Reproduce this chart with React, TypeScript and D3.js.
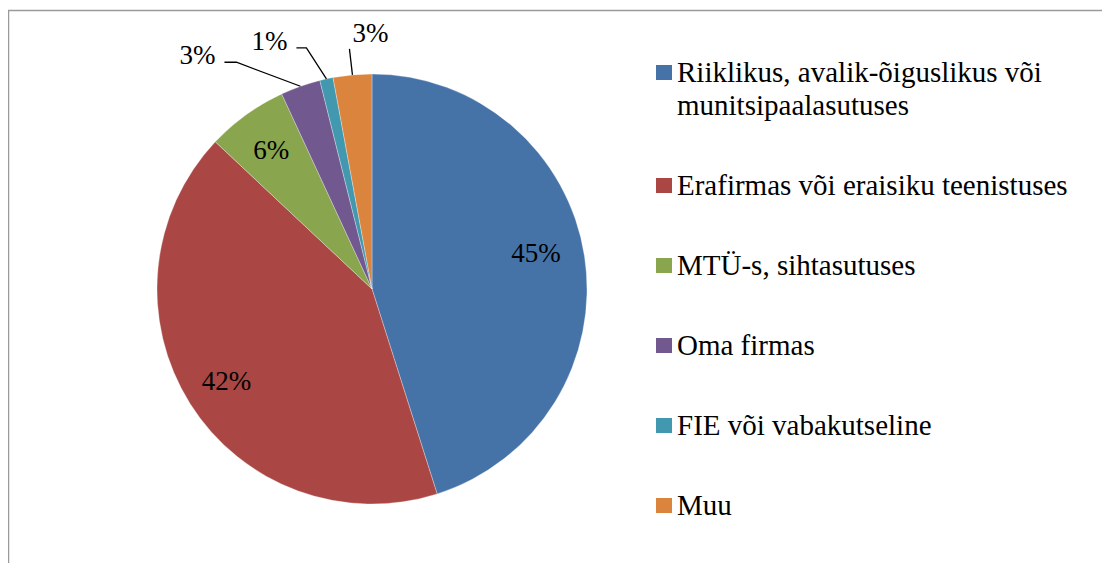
import React from "react";
import * as d3 from "d3";

const categories = [
  "Riiklikus, avalik-õiguslikus või munitsipaalasutuses",
  "Erafirmas või eraisiku teenistuses",
  "MTÜ-s, sihtasutuses",
  "Oma firmas",
  "FIE või vabakutseline",
  "Muu",
];
const values = [45.1, 41.9, 6.1, 3.0, 1.0, 2.9];
const valueLabels = ["45%", "42%", "6%", "3%", "1%", "3%"];
const colors = ["#4572A7", "#AA4643", "#89A54E", "#71588F", "#4198AF", "#DB843D"];

// small slices get their label outside with a leader line
// [elbow dx, elbow dy, tail length] relative to the point on the rim
const leaders: Record<number, [number, number, number]> = {
  3: [-64, -24, -12],
  4: [-20, -31, -10],
  5: [-3, -26, 0],
};
// small nudges for inside labels
const nudges: Record<number, [number, number]> = {
  0: [-6, -10],
};

const W = 1110;
const H = 563;
const LABEL_FS = 27;
const LEGEND_FS = 29;
const txt = { fontFamily: "Liberation Serif" };

const cx = 364;
const cy = 281;
const R = 215;

// break a legend name into lines of at most n characters
function wrap(name: string, n: number) {
  const lines: string[] = [];
  let cur = "";
  name.split(" ").forEach((w) => {
    const next = cur ? cur + " " + w : w;
    if (next.length > n && cur) {
      lines.push(cur);
      cur = w;
    } else cur = next;
  });
  lines.push(cur);
  return lines;
}

function App() {
  const pie = d3.pie<number>().sort(null).value((d) => d);
  const arcs = pie(values);
  const arc = d3.arc<d3.PieArcDatum<number>>().innerRadius(0).outerRadius(R);

  const labels = arcs.map((d, i) => {
    const mid = (d.startAngle + d.endAngle) / 2;
    const lead = leaders[i];
    if (!lead) {
      const r = R * 0.8;
      const [nx, ny] = nudges[i] || [0, 0];
      return (
        <text
          key={"l" + i}
          x={Math.sin(mid) * r + nx}
          y={-Math.cos(mid) * r + 9.5 + ny}
          textAnchor="middle"
          fontSize={LABEL_FS}
          style={txt}
          fill="#000"
        >
          {valueLabels[i]}
        </text>
      );
    }
    const px = Math.sin(mid) * R;
    const py = -Math.cos(mid) * R;
    const ex = px + lead[0];
    const ey = py + lead[1];
    const tx = ex + lead[2];
    const path = d3.line()([[px, py], [ex, ey], [tx, ey]]) || "";
    return (
      <g key={"l" + i}>
        <path d={path} fill="none" stroke="#000" strokeWidth={1.3} />
        {lead[2] < 0 ? (
          <text x={tx - 9} y={ey + 2} textAnchor="end" fontSize={LABEL_FS} style={txt} fill="#000">
            {valueLabels[i]}
          </text>
        ) : (
          <text x={ex + 21} y={ey - 7} textAnchor="middle" fontSize={LABEL_FS} style={txt} fill="#000">
            {valueLabels[i]}
          </text>
        )}
      </g>
    );
  });

  // legend rows
  const lineH = 33;
  let y = 74;
  const legend = categories.map((name, i) => {
    const lines = wrap(name, 34);
    const top = y;
    y += (lines.length - 1) * lineH + 80;
    return (
      <g key={name}>
        <rect x={648} y={top - 17} width={16} height={15} fill={colors[i]} />
        {lines.map((ln, j) => (
          <text key={j} x={669} y={top + j * lineH} fontSize={LEGEND_FS} style={txt} fill="#000">
            {ln}
          </text>
        ))}
      </g>
    );
  });

  return (
    <svg width={W} height={H} style={{ display: "block" }}>
      {/* chart frame, right and bottom edges fall outside the picture */}
      <rect x={0.5} y={2.5} width={1300} height={800} fill="none" stroke="#9a9a9a" strokeWidth={1.5} />
      <g transform={`translate(${cx},${cy})`}>
        {arcs.map((d, i) => (
          <path
            key={i}
            d={arc(d) || ""}
            fill={colors[i]}
            stroke="#ffffff"
            strokeOpacity={0.5}
            strokeWidth={0.6}
          />
        ))}
        {labels}
      </g>
      {legend}
    </svg>
  );
}

export default App;
